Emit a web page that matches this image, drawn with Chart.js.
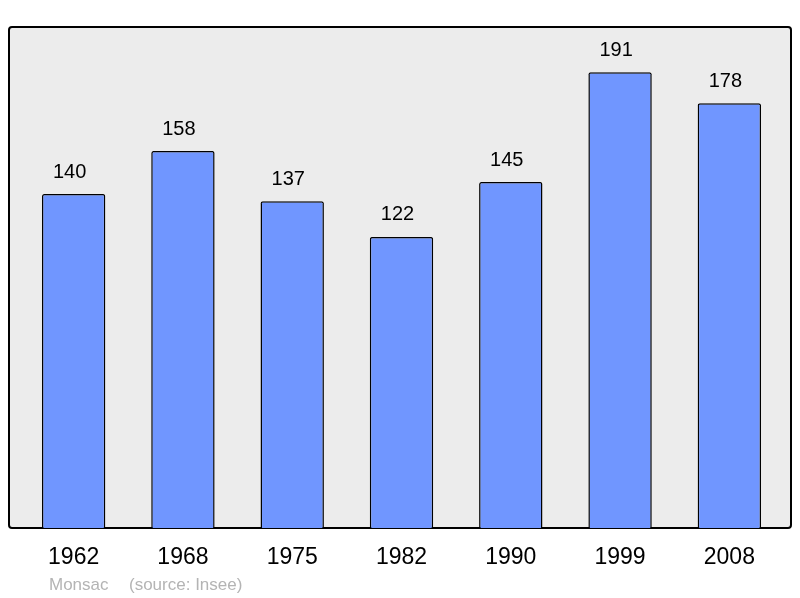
<!DOCTYPE html>
<html>
<head>
<meta charset="utf-8">
<script src="https://cdn.jsdelivr.net/npm/chart.js@4/dist/chart.umd.min.js"></script>
<style>
  html, body { margin: 0; padding: 0; background: #fff; }
  #wrap { width: 800px; height: 598px; }
</style>
</head>
<body>
<div id="wrap"><canvas id="popChart" width="800" height="598"></canvas></div>
<script>
const years = ['1962', '1968', '1975', '1982', '1990', '1999', '2008'];
const population = [140, 158, 137, 122, 145, 191, 178];
const yMax = 210;
const townName = 'Monsac';
const sourceText = '(source: Insee)';

// gray frame behind the bars
const framePlugin = {
    id: 'frame',
    beforeDraw(chart) {
        const { ctx, chartArea } = chart;
        const x0 = chartArea.left - 10, x1 = chartArea.right + 7;
        const y0 = chartArea.top, y1 = chartArea.bottom;
        ctx.save();
        ctx.beginPath();
        ctx.roundRect(x0, y0, x1 - x0, y1 - y0, 3);
        ctx.fillStyle = '#ececec';
        ctx.fill();
        ctx.lineWidth = 2;
        ctx.strokeStyle = '#000';
        ctx.stroke();
        ctx.restore();
    }
};

// value labels above bars + footer text
const labelPlugin = {
    id: 'labels',
    afterDatasetsDraw(chart) {
        const { ctx } = chart;
        const meta = chart.getDatasetMeta(0);
        ctx.save();
        ctx.font = '20px "Liberation Sans", Arial, sans-serif';
        ctx.fillStyle = '#000';
        ctx.textAlign = 'center';
        ctx.textBaseline = 'middle';
        meta.data.forEach((bar, i) => {
            ctx.fillText(String(population[i]), bar.x - 4, bar.y - 22);
        });
        ctx.font = '17px "Liberation Sans", Arial, sans-serif';
        ctx.fillStyle = '#b4b4b4';
        ctx.textAlign = 'left';
        ctx.fillText(townName, 49, 585);
        ctx.fillText(sourceText, 129, 585);
        ctx.restore();
    }
};

new Chart(document.getElementById('popChart'), {
    type: 'bar',
    data: {
        labels: years,
        datasets: [{
            data: population,
            backgroundColor: '#7096ff',
            borderColor: '#000',
            borderWidth: 1.5,
            borderRadius: 2,
            borderSkipped: 'bottom',
            barPercentage: 0.58,
            categoryPercentage: 1
        }]
    },
    options: {
        responsive: false,
        animation: false,
        layout: {
            padding: { left: 19, right: 16, top: 27, bottom: 0 }
        },
        plugins: {
            legend: { display: false },
            tooltip: { enabled: false }
        },
        scales: {
            y: {
                display: false,
                min: 0,
                max: yMax
            },
            x: {
                grid: { display: false },
                border: { display: false },
                afterFit(scale) { scale.height = 70; },
                ticks: {
                    color: '#000',
                    padding: 8,
                    font: { size: 23, family: '"Liberation Sans", Arial, sans-serif' }
                }
            }
        }
    },
    plugins: [framePlugin, labelPlugin]
});
</script>
</body>
</html>
